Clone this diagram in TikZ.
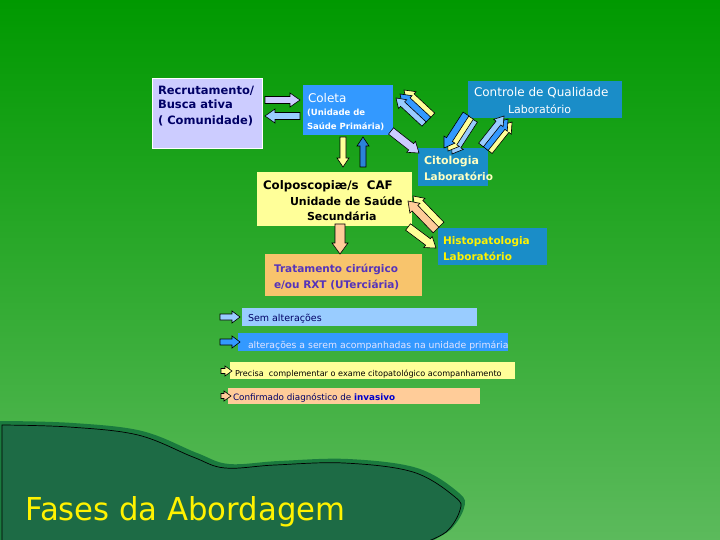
\documentclass[tikz,border=0pt]{standalone}
\usepackage{fontspec}
\usetikzlibrary{calc}
\newfontfamily\cf{DejaVu Sans}
\definecolor{lav}{HTML}{CCCCFF}
\definecolor{lblue}{HTML}{99CCFF}
\definecolor{mblue}{HTML}{3399FF}
\definecolor{labblue}{HTML}{1A8DC8}
\definecolor{lyel}{HTML}{FFFF99}
\definecolor{peach}{HTML}{FFCC99}
\definecolor{orng}{HTML}{F8C46C}
\definecolor{navyA}{HTML}{000066}
\definecolor{purp}{HTML}{5533BB}
\definecolor{blobg}{HTML}{1D6B45}
\definecolor{bgtop}{HTML}{009900}
\definecolor{bgbot}{HTML}{5CBA5C}
\newcommand\blockarr[6]{%
  \path ($(#2)!#6!(#1)$) coordinate (bH);
  \draw[black, line width=0.6pt, line join=miter, fill=#3]
    ($(#1)!#4!90:(#2)$) -- ($(bH)!#4!90:(#2)$) -- ($(bH)!#5!90:(#2)$) -- (#2)
    -- ($(bH)!#5!-90:(#2)$) -- ($(bH)!#4!-90:(#2)$) -- ($(#1)!#4!-90:(#2)$) -- cycle;}
\begin{document}
\begin{tikzpicture}[x=1pt,y=-1pt,
  box/.style={anchor=north west, inner sep=0pt, outer sep=0pt},
  txt/.style={anchor=base west, inner sep=0pt, outer sep=0pt}]
\useasboundingbox (0,0) rectangle (720,540);
\shade[top color=bgtop, bottom color=bgbot] (0,0) rectangle (720,540);

% ---------- boxes ----------
\node[box, fill=lav, draw=white, line width=0.6pt, minimum width=110pt, minimum height=70pt] (rec) at (152,78) {};
\node[box, fill=mblue, minimum width=90pt, minimum height=50pt] (col) at (303,85) {};
\node[box, fill=labblue, minimum width=154pt, minimum height=37pt] (cq) at (468,81) {};
\node[box, fill=labblue, minimum width=70pt, minimum height=38pt] (cit) at (418,148) {};
\node[box, fill=lyel, minimum width=155pt, minimum height=54pt] (colp) at (257,172) {};
\node[box, fill=labblue, minimum width=109pt, minimum height=37pt] (his) at (438,228) {};
\node[box, fill=orng, minimum width=157pt, minimum height=42pt] (tra) at (265,254) {};
\node[box, fill=lblue, minimum width=235pt, minimum height=18pt] (lg1) at (242,308) {};
\node[box, fill=mblue, minimum width=270pt, minimum height=18pt] (lg2) at (238,333) {};
\node[box, fill=lyel, minimum width=285pt, minimum height=17pt] (lg3) at (230,362) {};
\node[box, fill=peach, minimum width=252pt, minimum height=16pt] (lg4) at (228,388) {};

% ---------- texts ----------
\begin{scope}[every node/.append style={font=\cf\bfseries\fontsize{11.5}{14}\selectfont, text=navyA}]
\node[txt] (rec1) at (158,95) {Recrutamento/};
\node[txt] (rec2) at (158,109) {Busca ativa};
\node[txt] (rec3) at (158,125) {( Comunidade)};
\end{scope}
\node[txt, font=\cf\fontsize{12}{14}\selectfont, text=white] (col1) at (308,103) {Coleta};
\node[txt, font=\cf\bfseries\fontsize{8.5}{10}\selectfont, text=white] (col2) at (307,116) {(Unidade de};
\node[txt, font=\cf\bfseries\fontsize{8.5}{10}\selectfont, text=white] (col3) at (307,130) {Saúde Primária)};
\node[txt, font=\cf\fontsize{12}{14}\selectfont, text=white] (cq1) at (474,97) {Controle de Qualidade};
\node[txt, font=\cf\fontsize{11}{13}\selectfont, text=white] (cq2) at (508,114) {Laboratório};
\node[txt, font=\cf\bfseries\fontsize{11}{13}\selectfont, text=lyel!60!white] (cit1) at (424,165) {Citologia};
\node[txt, font=\cf\bfseries\fontsize{10.5}{13}\selectfont, text=lyel!60!white] (cit2) at (424,181) {Laboratório};
\begin{scope}[every node/.append style={font=\cf\bfseries\fontsize{11}{13}\selectfont, text=black}]
\node[txt, font=\cf\bfseries\fontsize{11.8}{13}\selectfont] (colp1) at (263,190) {Colposcopiæ/s\ \ CAF};
\node[txt] (colp2) at (290,206) {Unidade de Saúde};
\node[txt] (colp3) at (307,221) {Secundária};
\end{scope}
\node[txt, font=\cf\bfseries\fontsize{10.5}{13}\selectfont, text=yellow] (his1) at (443,244) {Histopatologia};
\node[txt, font=\cf\bfseries\fontsize{10.5}{13}\selectfont, text=yellow] (his2) at (443,260) {Laboratório};
\node[txt, font=\cf\bfseries\fontsize{10.5}{13}\selectfont, text=purp] (tra1) at (274,272) {Tratamento cirúrgico};
\node[txt, font=\cf\bfseries\fontsize{10.5}{13}\selectfont, text=purp] (tra2) at (274,288) {e/ou RXT (UTerciária)};
\node[txt, font=\cf\fontsize{9.5}{11}\selectfont, text=navyA] (lt1) at (248,321) {Sem alterações};
\node[txt, font=\cf\fontsize{9.3}{11}\selectfont, text=white!90!blue] (lt2) at (248,348) {alterações a serem acompanhadas na unidade primária};
\node[txt, font=\cf\fontsize{8.1}{10}\selectfont, text=black] (lt3) at (235,376) {Precisa\ \ complementar o exame citopatológico acompanhamento};
\node[txt, font=\cf\fontsize{8.8}{10}\selectfont, text=navyA] (lt4) at (233,400) {Confirmado diagnóstico de \textcolor{blue!80!black}{\bfseries invasivo}};

% ---------- block arrows ----------
\coordinate (a1s) at (265,100); \coordinate (a1e) at (300,100);
\blockarr{a1s}{a1e}{lav}{3.5pt}{7pt}{10pt}
\coordinate (a2s) at (300,116); \coordinate (a2e) at (265,116);
\blockarr{a2s}{a2e}{lblue}{3.5pt}{7pt}{10pt}
\coordinate (a3s) at (343,137); \coordinate (a3e) at (343,167);
\blockarr{a3s}{a3e}{lyel}{3pt}{6pt}{9pt}
\coordinate (a4s) at (363,167); \coordinate (a4e) at (363,137);
\blockarr{a4s}{a4e}{mblue!85!black}{3pt}{6pt}{9pt}
\coordinate (a5s) at (391,131); \coordinate (a5e) at (419,153);
\blockarr{a5s}{a5e}{lav}{4pt}{7pt}{10pt}
% Coleta - Controle pair
\coordinate (b1s) at (432,116); \coordinate (b1e) at (404,90);
\blockarr{b1s}{b1e}{lyel}{4pt}{7pt}{10pt}
\coordinate (b2s) at (428,120); \coordinate (b2e) at (400,94);
\blockarr{b2s}{b2e}{mblue}{4pt}{7pt}{10pt}
\coordinate (b3s) at (424,124); \coordinate (b3e) at (396,98);
\blockarr{b3s}{b3e}{lblue}{3pt}{6pt}{9pt}
% Controle -> Citologia
\coordinate (c1s) at (474,120); \coordinate (c1e) at (452,154);
\blockarr{c1s}{c1e}{lblue}{4pt}{7pt}{10pt}
\coordinate (c2s) at (470,117); \coordinate (c2e) at (448,151);
\blockarr{c2s}{c2e}{lyel}{4pt}{7pt}{10pt}
\coordinate (c3s) at (466,114); \coordinate (c3e) at (444,148);
\blockarr{c3s}{c3e}{mblue}{3.5pt}{6.5pt}{10pt}
% Citologia -> Controle
\coordinate (d1s) at (489,151); \coordinate (d1e) at (512,122);
\blockarr{d1s}{d1e}{lyel}{4pt}{7pt}{10pt}
\coordinate (d2s) at (485,148); \coordinate (d2e) at (508,119);
\blockarr{d2s}{d2e}{mblue}{4pt}{7pt}{10pt}
\coordinate (d3s) at (481,145); \coordinate (d3e) at (504,116);
\blockarr{d3s}{d3e}{lblue}{3pt}{6pt}{9pt}
% Histopatologia
\coordinate (e1s) at (441,225); \coordinate (e1e) at (413,196);
\blockarr{e1s}{e1e}{lyel}{4pt}{7pt}{10pt}
\coordinate (e2s) at (436,230); \coordinate (e2e) at (408,201);
\blockarr{e2s}{e2e}{peach}{4pt}{7pt}{10pt}
\coordinate (e3s) at (408,227); \coordinate (e3e) at (436,248);
\blockarr{e3s}{e3e}{lyel}{4pt}{7pt}{10pt}
% Colposcopia -> Tratamento
\coordinate (f1s) at (340,224); \coordinate (f1e) at (340,254);
\blockarr{f1s}{f1e}{peach}{5pt}{8pt}{11pt}
% legend arrows
\coordinate (g1s) at (220,317); \coordinate (g1e) at (240,317);
\blockarr{g1s}{g1e}{lblue}{3pt}{6pt}{8pt}
\coordinate (g2s) at (220,342); \coordinate (g2e) at (240,342);
\blockarr{g2s}{g2e}{mblue}{3pt}{6pt}{8pt}
\coordinate (g3s) at (221,371); \coordinate (g3e) at (232,371);
\blockarr{g3s}{g3e}{lyel}{2.5pt}{5pt}{7pt}
\coordinate (g4s) at (221,396); \coordinate (g4e) at (231,396);
\blockarr{g4s}{g4e}{peach}{2.5pt}{5pt}{7pt}

% ---------- bottom blob ----------
\fill[blobg!90!green] plot[smooth, tension=0.6] coordinates {(4,421) (73,423) (142,431) (197,453) (229,464) (279,461) (348,459) (417,468) (459,493) (464,508) (450,530) (425,544)} -- (0,544) -- (0,421) -- cycle;
\draw[black, line width=0.7pt, fill=blobg] (2,545) -- (2,425) -- plot[smooth, tension=0.6] coordinates {(2,425) (69,427) (138,435) (193,457) (225,468) (275,465) (344,463) (413,472) (455,497) (460,510) (446,532) (418,545)};
\node[anchor=base west, inner sep=0pt, text=yellow] (title) at (25,520) {\resizebox{320pt}{24pt}{\cf Fases da Abordagem}};
\end{tikzpicture}
\end{document}
